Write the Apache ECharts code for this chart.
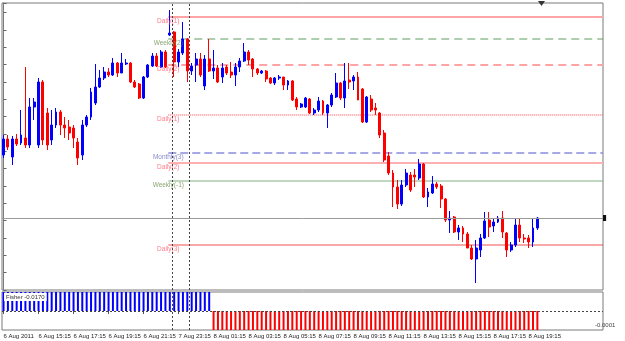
<!DOCTYPE html>
<html><head><meta charset="utf-8">
<script src="https://cdn.jsdelivr.net/npm/echarts@6/dist/echarts.min.js"></script>
<style>html,body{margin:0;padding:0;background:#fff}#c{width:625px;height:341px}</style>
</head><body><div id="c"></div>
<script>
// ---- data (price in points above chart bottom; 17.33 points per price grid step) ----
const tickLabels = ['6 Aug 2011','6 Aug 15:15','6 Aug 17:15','6 Aug 19:15','6 Aug 21:15','7 Aug 23:15',
  '8 Aug 01:15','8 Aug 03:15','8 Aug 05:15','8 Aug 07:15','8 Aug 09:15','8 Aug 11:15','8 Aug 13:15',
  '8 Aug 15:15','8 Aug 17:15','8 Aug 19:15'];
const tickBars = [0,8,16,24,32,40,48,56,64,72,80,88,96,104,112,120];
const opens = [135,151,133,151,147,152,145,183,145,208,
  177,150,165,178,165,163,162,148,135,165,
  173,187,203,212,218,215,227,217,226,227,
  208,206,192,213,224,234,223,238,255,258,
  228,237,251,219,225,231,204,231,219,222,
  213,223,218,215,223,229,238,231,221,217,
  219,212,207,212,213,205,209,191,183,183,
  191,177,180,189,177,185,193,207,192,210,
  209,213,201,168,191,182,177,157,134,117,
  103,86,105,115,115,112,126,93,97,106,
  104,91,70,73,58,62,56,42,31,40,
  52,70,64,68,72,57,40,45,65,52,
  52,48,62];
const closes = [151,143,151,146,155,145,183,188,208,150,
  145,165,178,165,162,157,152,132,165,173,
  198,203,212,218,215,227,217,227,227,208,
  203,192,213,225,234,224,238,223,257,228,
  238,251,219,224,231,215,231,219,222,208,
  222,217,215,223,229,238,230,221,217,219,
  211,207,212,213,205,209,190,183,186,192,
  177,180,189,177,185,195,207,192,209,208,
  213,190,168,193,180,180,155,130,117,103,
  86,105,117,100,113,126,93,98,106,103,
  91,70,72,58,62,56,42,31,42,52,
  69,63,68,72,58,40,45,65,52,51,
  48,62,72];
const lows = [132,140,125,144,145,142,142,170,142,145,
  140,145,162,155,152,150,142,125,130,163,
  170,185,202,210,213,214,213,217,225,207,
  202,191,191,212,223,223,222,222,254,213,
  223,235,208,215,208,213,200,218,211,207,
  207,215,212,204,218,228,225,213,215,216,
  208,206,205,210,200,200,189,180,182,182,
  176,175,178,175,162,183,192,190,182,201,
  200,190,167,167,178,175,152,128,115,83,
  81,84,103,98,103,110,92,83,96,101,
  82,68,57,57,50,48,42,30,7,33,
  51,53,58,67,52,33,38,43,48,47,
  42,43,60];
const highs = [155,155,154,156,180,223,192,192,212,210,
  182,180,182,180,173,170,165,152,170,175,
  202,226,220,223,222,232,228,237,231,228,
  210,207,214,226,237,237,240,240,280,259,
  241,268,252,227,237,237,235,251,240,225,
  227,225,228,227,232,247,240,232,222,220,
  220,213,213,215,213,210,210,193,187,193,
  192,182,193,190,186,197,217,208,227,227,
  215,218,202,194,195,187,178,160,138,120,
  110,110,121,118,121,131,127,102,114,108,
  106,92,79,74,65,64,58,45,50,56,
  78,78,72,74,79,58,48,72,72,56,
  55,72,73];
const fisher = [1,1,1,1,1,1,1,1,1,1,1,1,1,1,1,1,1,1,1,1,1,1,1,1,1,1,1,1,1,1,1,1,1,1,1,1,1,1,1,1,1,1,1,1,1,1,1,1,
  -1,-1,-1,-1,-1,-1,-1,-1,-1,-1,-1,-1,-1,-1,-1,-1,-1,-1,-1,-1,-1,-1,-1,-1,-1,-1,-1,-1,-1,-1,-1,-1,-1,-1,-1,-1,-1,-1,
  -1,-1,-1,-1,-1,-1,-1,-1,-1,-1,-1,-1,-1,-1,-1,-1,-1,-1,-1,-1,-1,-1,-1,-1,-1,-1,-1,-1,-1,-1,-1,-1,-1,-1,-1,-1,-1];
const levelNames = ['Daily(1)','Weekly(2)','Daily(2)','Daily(1)','Monthly(3)','Daily(2)','Weekly(-1)','Daily(3)'];
const levelValues = [273,251,225,175,137,127,109,45];
const levelStartBar = 37.65;
const separatorBars = [38.5, 42.5];
const fisherText = 'Fisher -0.0170';
const fisherScaleText = '-0.0001';

// ---- styles ----
const levelStyles = [
  {c:'#ffa4a4', t:'solid', w:2, lc:'#ff5a6e'},
  {c:'#5f9a5f', t:[8,5], w:1, lc:'#6c8f4c'},
  {c:'#ffa4a4', t:[8,5], w:2, lc:'#ff5a6e'},
  {c:'#ff4040', t:[1,1], w:1, lc:'#ff5a6e'},
  {c:'#8c8ce0', t:[8,4], w:1.5, lc:'#6c6cc0'},
  {c:'#ffb0b0', t:'solid', w:2, lc:'#ff5a6e'},
  {c:'#80b080', t:'solid', w:1, lc:'#6c8f4c'},
  {c:'#f05050', t:'solid', w:1, lc:'#ff5a6e'}
];
const X_MIN = -0.35, X_MAX = 137.0;
const FONT = 'Liberation Sans, Arial, sans-serif';

const candles = opens.map((o,i)=>[i, o, closes[i], lows[i], highs[i]]);
const fisherData = fisher.map((v,i)=>[i, v]);
const lastClose = closes[closes.length-1];

const levelSeries = levelValues.map((v,i)=>({
  type:'line', xAxisIndex:0, yAxisIndex:0, silent:true, showSymbol:false, symbol:'none', z:1,
  data:[[levelStartBar, v],[X_MAX, v]],
  lineStyle:{color:levelStyles[i].c, type:levelStyles[i].t, width:levelStyles[i].w}
}));
const sepLines = separatorBars.map(b=>({xAxis:b, lineStyle:{color:'#444', type:[2,2], width:1}}));
const priceLine = [
  {coord:[X_MIN, lastClose], lineStyle:{color:'#9a9a9a', type:'solid', width:1}},
  {coord:[X_MAX, lastClose], label:{show:true, position:'end', distance:0, formatter:' ', fontSize:4,
     backgroundColor:'#111', padding:[1,1]}}
];

const chart = echarts.init(document.getElementById('c'));
chart.setOption({
  animation:false,
  backgroundColor:'#ffffff',
  textStyle:{fontFamily:FONT},
  title:[
    {text:fisherText, left:4, top:293, padding:[1,2], backgroundColor:'#ffffff',
     textStyle:{fontSize:6, fontWeight:'normal', color:'#333', fontFamily:FONT}},
    {text:fisherScaleText, left:595, top:322, padding:0,
     textStyle:{fontSize:6, fontWeight:'normal', color:'#444', fontFamily:FONT}}
  ],
  grid:[
    {left:2, top:3, width:601, height:287, show:true, borderColor:'#7a7a7a', borderWidth:1, backgroundColor:'#fff'},
    {left:2, top:292, width:601, height:38, show:true, borderColor:'#7a7a7a', borderWidth:1, backgroundColor:'#fff'}
  ],
  xAxis:[
    {type:'value', gridIndex:0, min:X_MIN, max:X_MAX, show:false},
    {type:'value', gridIndex:1, min:X_MIN, max:X_MAX,
     axisLine:{show:false}, splitLine:{show:false},
     axisTick:{show:true, customValues:tickBars, length:3, lineStyle:{color:'#555'}},
     axisLabel:{show:true, customValues:tickBars, showMinLabel:true, hideOverlap:false, align:'left', margin:3,
       fontSize:6, color:'#222', fontFamily:FONT,
       formatter:(v)=>{const k = tickBars.indexOf(Math.round(v)); return k >= 0 ? tickLabels[k] : '';}}}
  ],
  yAxis:[
    {type:'value', gridIndex:0, position:'right', min:0, max:287, interval:17.33,
     axisLine:{show:true, lineStyle:{color:'#7a7a7a'}}, splitLine:{show:false},
     axisTick:{show:true, length:3, lineStyle:{color:'#666'}}, axisLabel:{show:false}},
    {type:'value', gridIndex:1, min:-1, max:1, show:false}
  ],
  graphic:[
    {type:'polygon', shape:{points:[[538,1],[545,1],[541.5,6]]}, style:{fill:'#333'}}
  ],
  series:levelSeries.concat([
    {type:'candlestick', xAxisIndex:0, yAxisIndex:0, data:candles, barWidth:2.4, z:3,
     encode:{x:0, y:[1,2,3,4]},
     itemStyle:{color:'#0000ff', color0:'#ff0000', borderColor:'#0000ff', borderColor0:'#ff0000', borderWidth:1},
     markLine:{silent:true, symbol:['none','none'], label:{show:false}, animation:false,
       data:[priceLine].concat(sepLines)}},
    {type:'scatter', xAxisIndex:0, yAxisIndex:0, symbolSize:1, itemStyle:{color:'rgba(0,0,0,0)'}, silent:true, z:4,
     data:levelValues.map((v,i)=>({value:[levelStartBar, v],
       label:{show:true, position:'bottom', distance:0, formatter:levelNames[i], color:levelStyles[i].lc,
              fontSize:6.5, fontFamily:FONT}}))},
    {type:'bar', xAxisIndex:1, yAxisIndex:1, data:fisherData, barWidth:2,
     itemStyle:{color:(p)=>p.value[1] > 0 ? '#0000ff' : '#ff0000'},
     markLine:{silent:true, symbol:['none','none'], label:{show:false}, animation:false,
       data:[{yAxis:0, lineStyle:{color:'#444', type:[2,2], width:1}}].concat(sepLines)}}
  ])
});
</script>
</body></html>
